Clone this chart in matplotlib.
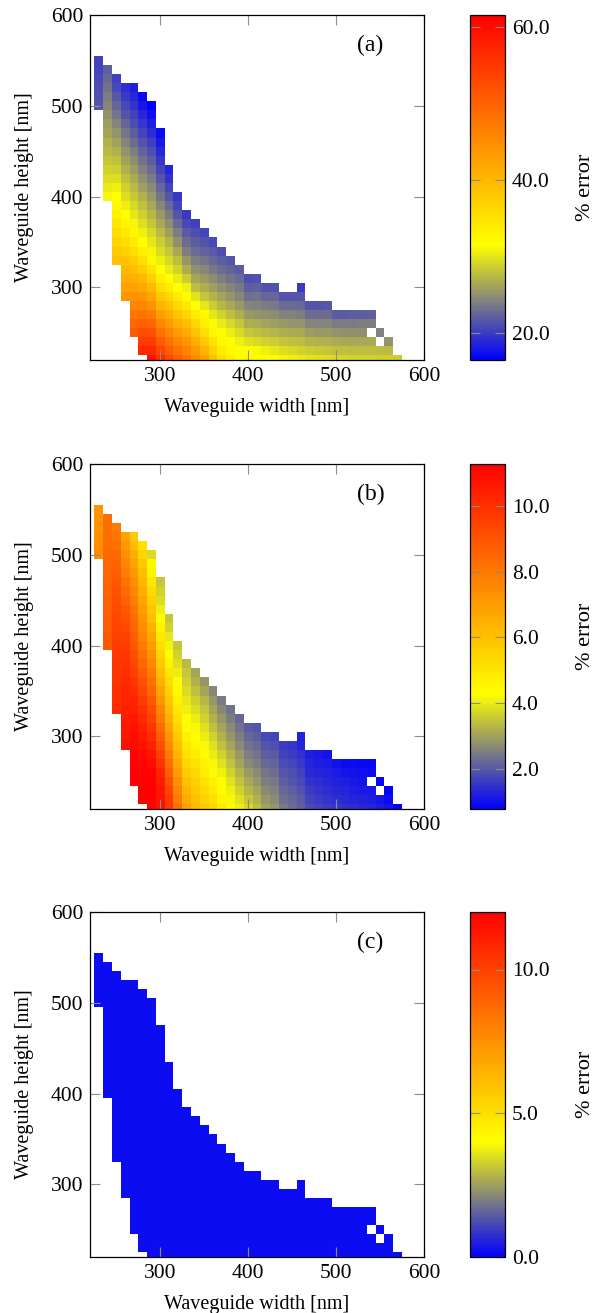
import numpy as np
import matplotlib
matplotlib.use('Agg')
import matplotlib.pyplot as plt
from matplotlib.colors import LinearSegmentedColormap, Normalize

#---------------------------------------- DATA ----------------------------------------
# cell centres of the (width, height) grid in nm
widths = [230, 240, 250, 260, 270, 280, 290, 300, 310, 320, 330, 340, 350, 360, 370, 380,
          390, 400, 410, 420, 430, 440, 450, 460, 470, 480, 490, 500, 510, 520, 530, 540,
          550, 560, 570]
heights = np.arange(220, 560, 10)

# lowest height with data in each width column
col_bottom = [500, 400, 330, 290, 250, 230, 220, 220, 220, 220, 220, 220, 220, 220, 220, 220,
              220, 220, 220, 220, 220, 220, 220, 220, 220, 220, 220, 220, 220, 220, 220, 220,
              220, 220, 220]

nan = np.nan

# % error per column, listed from the bottom cell upwards  (a)
err_a = [
    [21.5, 21.3, 21.1, 20.9, 20.7, 20.5],
    [31.0, 30.3, 29.6, 28.9, 28.2, 27.5, 26.9, 26.3, 25.7, 25.1, 24.5, 23.9, 23.3, 22.7, 22.1],
    [39.0, 37.9, 36.8, 35.7, 34.6, 33.5, 32.4, 31.5, 30.6, 29.7, 28.8, 27.9, 27.0, 26.1, 25.2,
     24.3, 23.4, 22.5, 21.7, 20.9, 20.2],
    [44.0, 42.6, 41.2, 39.8, 38.4, 37.0, 35.6, 34.2, 32.8, 31.5, 30.6, 29.7, 28.8, 27.9, 27.0,
     26.1, 25.2, 24.3, 23.4, 22.5, 21.6, 20.8, 20.0, 19.3],
    [51.0, 49.3, 47.6, 45.9, 44.2, 42.5, 40.8, 39.1, 37.4, 35.7, 34.0, 32.3, 31.1, 30.2, 29.3,
     28.4, 27.5, 26.6, 25.7, 24.8, 23.9, 23.0, 22.1, 21.2, 20.4, 19.6, 18.9, 18.3],
    [57.0, 54.8, 52.6, 50.4, 48.2, 46.0, 43.9, 41.8, 39.7, 37.6, 35.5, 33.4, 31.6, 30.6, 29.6,
     28.7, 27.8, 26.9, 26.0, 25.1, 24.2, 23.3, 22.4, 21.5, 20.6, 19.7, 18.8, 17.9, 17.1],
    [59.5, 57.0, 54.5, 52.0, 49.5, 47.0, 44.5, 42.0, 39.6, 37.2, 34.8, 32.3, 31.0, 30.1, 29.2,
     28.3, 27.4, 26.5, 25.6, 24.7, 23.8, 22.9, 22.0, 21.1, 20.2, 19.3, 18.4, 17.5, 16.7],
    [56.0, 53.4, 50.8, 48.2, 45.6, 43.0, 40.4, 37.9, 35.5, 33.4, 31.5, 30.5, 29.5, 28.5, 27.5,
     26.5, 25.5, 24.5, 23.5, 22.5, 21.5, 20.6, 19.7, 18.8, 18.0, 17.3],
    [53.0, 50.6, 48.2, 45.8, 43.4, 41.0, 38.6, 36.2, 33.8, 31.6, 30.4, 29.3, 28.2, 27.1, 26.0,
     24.9, 23.8, 22.7, 21.6, 20.6, 19.6, 18.7],
    [50.5, 48.1, 45.7, 43.3, 40.9, 38.5, 36.1, 33.7, 31.6, 30.3, 29.0, 27.7, 26.4, 25.1, 23.9,
     22.7, 21.6, 20.6, 19.7],
    [48.0, 46.0, 43.9, 41.6, 39.2, 36.6, 34.2, 32.1, 30.7, 28.6, 26.8, 25.4, 24.0, 23.0, 21.8,
     20.9, 20.0],
    [45.5, 43.3, 41.0, 38.6, 36.2, 33.9, 31.7, 29.8, 27.7, 26.2, 25.0, 23.9, 23.0, 22.1, 21.2, 20.3],
    [42.7, 40.4, 38.0, 35.6, 33.5, 32.1, 30.1, 28.3, 26.8, 25.6, 24.5, 23.5, 22.4, 21.5, 20.6],
    [39.0, 36.8, 34.7, 32.7, 31.4, 30.2, 28.6, 27.1, 25.9, 24.8, 23.7, 22.7, 21.8, 20.9],
    [35.6, 33.9, 32.3, 31.4, 30.4, 28.9, 27.4, 26.2, 25.0, 24.0, 23.0, 22.1, 21.2],
    [33.5, 32.3, 31.4, 30.5, 29.2, 27.8, 26.5, 25.4, 24.3, 23.3, 22.4, 21.5],
    [32.1, 31.4, 30.7, 29.5, 28.2, 26.8, 25.6, 24.6, 23.6, 22.7, 21.8],
    [32.5, 31.5, 29.8, 28.2, 26.8, 25.5, 24.3, 23.1, 22.1, 21.2],
    [32.0, 31.2, 29.4, 27.9, 26.6, 25.3, 24.2, 23.2, 22.2, 21.3],
    [31.7, 30.6, 28.9, 27.5, 26.2, 25.0, 23.8, 22.6, 21.3],
    [31.4, 30.2, 28.6, 27.2, 26.0, 24.8, 23.7, 22.5, 21.3],
    [31.0, 29.6, 28.1, 26.8, 25.5, 24.2, 22.9, 21.5],
    [30.7, 29.3, 27.9, 26.6, 25.3, 24.1, 22.9, 21.6],
    [30.4, 29.0, 27.7, 26.4, 25.2, 24.0, 22.8, 21.5, 19.9],
    [30.0, 28.6, 27.1, 25.7, 24.3, 22.9, 21.5],
    [29.8, 28.4, 27.0, 25.6, 24.3, 22.9, 21.6],
    [29.6, 28.2, 26.9, 25.6, 24.3, 23.0, 21.7],
    [29.2, 27.9, 26.6, 25.2, 23.8, 21.8],
    [29.1, 27.8, 26.5, 25.1, 23.8, 21.9],
    [29.0, 27.7, 26.4, 25.0, 23.8, 22.0],
    [28.9, 27.7, 26.4, 25.0, 23.9, 22.1],
    [28.9, 27.6, 26.4, nan, 23.9, 22.2],
    [28.8, 27.6, nan, 24.2],
    [28.7, 27.5, 25.3],
    [28.6],
]

# (b)
err_b = [
    [7.4, 7.35, 7.3, 7.25, 7.2, 7.15],
    [8.9, 8.85, 8.8, 8.75, 8.7, 8.65, 8.6, 8.55, 8.5, 8.45, 8.4, 8.35, 8.3, 8.25, 8.2],
    [10.1, 10.0, 9.95, 9.85, 9.8, 9.75, 9.7, 9.6, 9.5, 9.4, 9.3, 9.2, 9.1, 9.0, 8.85, 8.7,
     8.55, 8.4, 8.2, 8.05, 7.9],
    [10.8, 10.7, 10.6, 10.5, 10.4, 10.3, 10.2, 10.1, 10.0, 9.9, 9.75, 9.6, 9.45, 9.25, 9.05,
     8.85, 8.6, 8.35, 8.1, 7.85, 7.6, 7.35, 7.1, 6.9],
    [11.2, 11.2, 11.15, 11.1, 11.0, 10.9, 10.75, 10.6, 10.4, 10.2, 10.0, 9.75, 9.5, 9.3, 9.1,
     8.9, 8.7, 8.5, 8.3, 8.1, 7.85, 7.6, 7.35, 7.1, 6.8, 6.5, 6.15, 5.8],
    [11.2, 11.25, 11.25, 11.2, 11.1, 11.0, 10.8, 10.6, 10.4, 10.15, 9.9, 9.6, 9.3, 9.0, 8.7,
     8.45, 8.2, 7.9, 7.65, 7.4, 7.2, 7.0, 6.8, 6.55, 6.3, 6.1, 5.75, 5.4, 5.1],
    [11.2, 11.25, 11.25, 11.2, 11.1, 10.9, 10.7, 10.4, 10.1, 9.8, 9.5, 9.2, 8.85, 8.5, 8.2,
     7.9, 7.6, 7.3, 7.0, 6.7, 6.4, 6.1, 5.9, 5.6, 5.3, 5.0, 4.6, 4.2, 3.8],
    [10.8, 10.75, 10.65, 10.45, 10.2, 9.85, 9.5, 9.1, 8.7, 8.3, 7.9, 7.55, 7.2, 6.8, 6.45,
     6.1, 5.8, 5.5, 5.2, 4.9, 4.6, 4.4, 4.1, 3.85, 3.7, 3.5],
    [9.7, 9.6, 9.35, 9.05, 8.65, 8.25, 7.85, 7.5, 7.15, 6.8, 6.45, 6.15, 5.85, 5.55, 5.25,
     4.95, 4.65, 4.35, 4.15, 3.95, 3.7, 3.5],
    [8.2, 7.95, 7.65, 7.3, 6.95, 6.65, 6.35, 6.05, 5.75, 5.45, 5.2, 4.95, 4.7, 4.45, 4.25,
     4.05, 3.85, 3.7, 3.5],
    [6.9, 6.6, 6.3, 6.0, 5.7, 5.4, 5.15, 4.9, 4.65, 4.4, 4.25, 4.1, 3.95, 3.8, 3.65, 3.5, 3.35],
    [6.2, 6.0, 5.8, 5.55, 5.3, 5.05, 4.8, 4.55, 4.35, 4.2, 4.05, 3.85, 3.65, 3.45, 3.25, 3.05],
    [5.8, 5.55, 5.3, 5.05, 4.8, 4.6, 4.4, 4.2, 4.05, 3.9, 3.7, 3.5, 3.3, 3.05, 2.85],
    [5.4, 5.15, 4.9, 4.65, 4.4, 4.22, 4.05, 3.87, 3.67, 3.45, 3.25, 3.05, 2.85, 2.65],
    [4.85, 4.62, 4.42, 4.24, 4.08, 3.87, 3.67, 3.45, 3.25, 3.05, 2.85, 2.65, 2.5],
    [4.36, 4.2, 4.08, 3.87, 3.67, 3.46, 3.26, 3.07, 2.88, 2.7, 2.5, 2.37],
    [4.08, 3.87, 3.67, 3.46, 3.26, 3.07, 2.89, 2.71, 2.53, 2.37, 2.23],
    [3.75, 3.5, 3.3, 3.1, 2.9, 2.72, 2.54, 2.37, 2.2, 2.05],
    [3.45, 3.25, 3.06, 2.88, 2.71, 2.55, 2.39, 2.24, 2.1, 1.96],
    [3.01, 2.85, 2.7, 2.55, 2.4, 2.25, 2.1, 1.96, 1.82],
    [2.85, 2.71, 2.58, 2.44, 2.3, 2.17, 2.03, 1.89, 1.76],
    [2.47, 2.34, 2.22, 2.1, 1.97, 1.85, 1.73, 1.62],
    [2.3, 2.19, 2.08, 1.97, 1.87, 1.76, 1.65, 1.55],
    [2.14, 2.03, 1.92, 1.81, 1.7, 1.59, 1.48, 1.37, 1.28],
    [1.85, 1.74, 1.63, 1.52, 1.41, 1.31, 1.22],
    [1.72, 1.62, 1.52, 1.42, 1.32, 1.22, 1.13],
    [1.62, 1.53, 1.44, 1.35, 1.26, 1.17, 1.08],
    [1.55, 1.45, 1.36, 1.27, 1.18, 1.05],
    [1.48, 1.39, 1.3, 1.21, 1.12, 1.0],
    [1.42, 1.33, 1.24, 1.15, 1.07, 0.97],
    [1.36, 1.27, 1.19, 1.1, 1.02, 0.94],
    [1.3, 1.21, 1.13, nan, 0.98, 0.91],
    [1.2, 1.1, nan, 0.92],
    [1.1, 0.98, 0.88],
    [0.84],
]

# (c) - every cell reads as pure blue (close to zero)
err_c = [
    [0.2, 0.2, 0.2, 0.2, 0.2, 0.2],
    [0.2, 0.2, 0.2, 0.2, 0.2, 0.2, 0.2, 0.2, 0.2, 0.2, 0.2, 0.2, 0.2, 0.2, 0.2],
    [0.2, 0.2, 0.2, 0.2, 0.2, 0.2, 0.2, 0.2, 0.2, 0.2, 0.2, 0.2, 0.2, 0.2, 0.2, 0.2, 0.2,
     0.2, 0.2, 0.2, 0.2],
    [0.2, 0.2, 0.2, 0.2, 0.2, 0.2, 0.2, 0.2, 0.2, 0.2, 0.2, 0.2, 0.2, 0.2, 0.2, 0.2, 0.2,
     0.2, 0.2, 0.2, 0.2, 0.2, 0.2, 0.2],
    [0.2, 0.2, 0.2, 0.2, 0.2, 0.2, 0.2, 0.2, 0.2, 0.2, 0.2, 0.2, 0.2, 0.2, 0.2, 0.2, 0.2,
     0.2, 0.2, 0.2, 0.2, 0.2, 0.2, 0.2, 0.2, 0.2, 0.2, 0.2],
    [0.2, 0.2, 0.2, 0.2, 0.2, 0.2, 0.2, 0.2, 0.2, 0.2, 0.2, 0.2, 0.2, 0.2, 0.2, 0.2, 0.2,
     0.2, 0.2, 0.2, 0.2, 0.2, 0.2, 0.2, 0.2, 0.2, 0.2, 0.2, 0.2],
    [0.2, 0.2, 0.2, 0.2, 0.2, 0.2, 0.2, 0.2, 0.2, 0.2, 0.2, 0.2, 0.2, 0.2, 0.2, 0.2, 0.2,
     0.2, 0.2, 0.2, 0.2, 0.2, 0.2, 0.2, 0.2, 0.2, 0.2, 0.2, 0.2],
    [0.2, 0.2, 0.2, 0.2, 0.2, 0.2, 0.2, 0.2, 0.2, 0.2, 0.2, 0.2, 0.2, 0.2, 0.2, 0.2, 0.2,
     0.2, 0.2, 0.2, 0.2, 0.2, 0.2, 0.2, 0.2, 0.2],
    [0.2, 0.2, 0.2, 0.2, 0.2, 0.2, 0.2, 0.2, 0.2, 0.2, 0.2, 0.2, 0.2, 0.2, 0.2, 0.2, 0.2,
     0.2, 0.2, 0.2, 0.2, 0.2],
    [0.2, 0.2, 0.2, 0.2, 0.2, 0.2, 0.2, 0.2, 0.2, 0.2, 0.2, 0.2, 0.2, 0.2, 0.2, 0.2, 0.2,
     0.2, 0.2],
    [0.2, 0.2, 0.2, 0.2, 0.2, 0.2, 0.2, 0.2, 0.2, 0.2, 0.2, 0.2, 0.2, 0.2, 0.2, 0.2, 0.2],
    [0.2, 0.2, 0.2, 0.2, 0.2, 0.2, 0.2, 0.2, 0.2, 0.2, 0.2, 0.2, 0.2, 0.2, 0.2, 0.2],
    [0.2, 0.2, 0.2, 0.2, 0.2, 0.2, 0.2, 0.2, 0.2, 0.2, 0.2, 0.2, 0.2, 0.2, 0.2],
    [0.2, 0.2, 0.2, 0.2, 0.2, 0.2, 0.2, 0.2, 0.2, 0.2, 0.2, 0.2, 0.2, 0.2],
    [0.2, 0.2, 0.2, 0.2, 0.2, 0.2, 0.2, 0.2, 0.2, 0.2, 0.2, 0.2, 0.2],
    [0.2, 0.2, 0.2, 0.2, 0.2, 0.2, 0.2, 0.2, 0.2, 0.2, 0.2, 0.2],
    [0.2, 0.2, 0.2, 0.2, 0.2, 0.2, 0.2, 0.2, 0.2, 0.2, 0.2],
    [0.2, 0.2, 0.2, 0.2, 0.2, 0.2, 0.2, 0.2, 0.2, 0.2],
    [0.2, 0.2, 0.2, 0.2, 0.2, 0.2, 0.2, 0.2, 0.2, 0.2],
    [0.2, 0.2, 0.2, 0.2, 0.2, 0.2, 0.2, 0.2, 0.2],
    [0.2, 0.2, 0.2, 0.2, 0.2, 0.2, 0.2, 0.2, 0.2],
    [0.2, 0.2, 0.2, 0.2, 0.2, 0.2, 0.2, 0.2],
    [0.2, 0.2, 0.2, 0.2, 0.2, 0.2, 0.2, 0.2],
    [0.2, 0.2, 0.2, 0.2, 0.2, 0.2, 0.2, 0.2, 0.2],
    [0.2, 0.2, 0.2, 0.2, 0.2, 0.2, 0.2],
    [0.2, 0.2, 0.2, 0.2, 0.2, 0.2, 0.2],
    [0.2, 0.2, 0.2, 0.2, 0.2, 0.2, 0.2],
    [0.2, 0.2, 0.2, 0.2, 0.2, 0.2],
    [0.2, 0.2, 0.2, 0.2, 0.2, 0.2],
    [0.2, 0.2, 0.2, 0.2, 0.2, 0.2],
    [0.2, 0.2, 0.2, 0.2, 0.2, 0.2],
    [0.2, 0.2, 0.2, nan, 0.2, 0.2],
    [0.2, 0.2, nan, 0.2],
    [0.2, 0.2, 0.2],
    [0.2],
]

panel_tags = ['(a)', '(b)', '(c)']
cbar_range = [(16.5, 61.6), (0.8, 11.26), (0.0, 12.0)]
cbar_ticks = [[20, 40, 60], [2, 4, 6, 8, 10], [0, 5, 10]]

#---------------------------------------- PLOT ----------------------------------------
plt.rcParams['font.family'] = ['Liberation Serif', 'DejaVu Serif']

cmap = LinearSegmentedColormap.from_list(
    'byor', [(0, 0, 1), (1, 1, 0), (1, 0.5, 0), (1, 0, 0)])

W, H = 606, 1313
fig = plt.figure(figsize=(W / 100, H / 100), dpi=100)

xe = np.append(np.array(widths) - 5, widths[-1] + 5)
ye = np.append(heights - 5, heights[-1] + 5)

tops = [15, 464, 912]
for i, err in enumerate([err_a, err_b, err_c]):
    top = tops[i]
    ax = fig.add_axes([90 / W, 1 - (top + 345) / H, 334 / W, 345 / H])
    cax = fig.add_axes([470 / W, 1 - (top + 345) / H, 35 / W, 345 / H])

    Z = np.full((len(heights), len(widths)), np.nan)
    for j, col in enumerate(err):
        r0 = (col_bottom[j] - heights[0]) // 10
        Z[r0:r0 + len(col), j] = col

    lo, hi = cbar_range[i]
    mesh = ax.pcolormesh(xe, ye, np.ma.masked_invalid(Z), cmap=cmap,
                         norm=Normalize(lo, hi), shading='flat',
                         antialiased=False, edgecolors='none')
    ax.set_xlim(220, 600)
    ax.set_ylim(220, 600)
    ax.set_xticks([300, 400, 500, 600])
    ax.set_yticks([300, 400, 500, 600])
    ax.tick_params(direction='in', length=7, color='0.55', top=True, right=True,
                   labelsize=15.5, pad=5)
    for s in ax.spines.values():
        s.set_linewidth(0.9)
    ax.set_xlabel('Waveguide width [nm]', fontsize=14.5, labelpad=8.5)
    ax.set_ylabel('Waveguide height [nm]', fontsize=14.5, labelpad=12)
    ax.text(0.84, 0.913, panel_tags[i], transform=ax.transAxes, fontsize=17,
            ha='center', va='center')

    cb = fig.colorbar(mesh, cax=cax, ticks=cbar_ticks[i], format='%.1f')
    cb.ax.tick_params(direction='in', length=7, color='0.55', left=True, right=True,
                      labelsize=15.5, pad=5)
    cb.outline.set_linewidth(0.9)
    cb.set_label('% error', fontsize=16, labelpad=19)

fig.savefig('out.png', dpi=100)
